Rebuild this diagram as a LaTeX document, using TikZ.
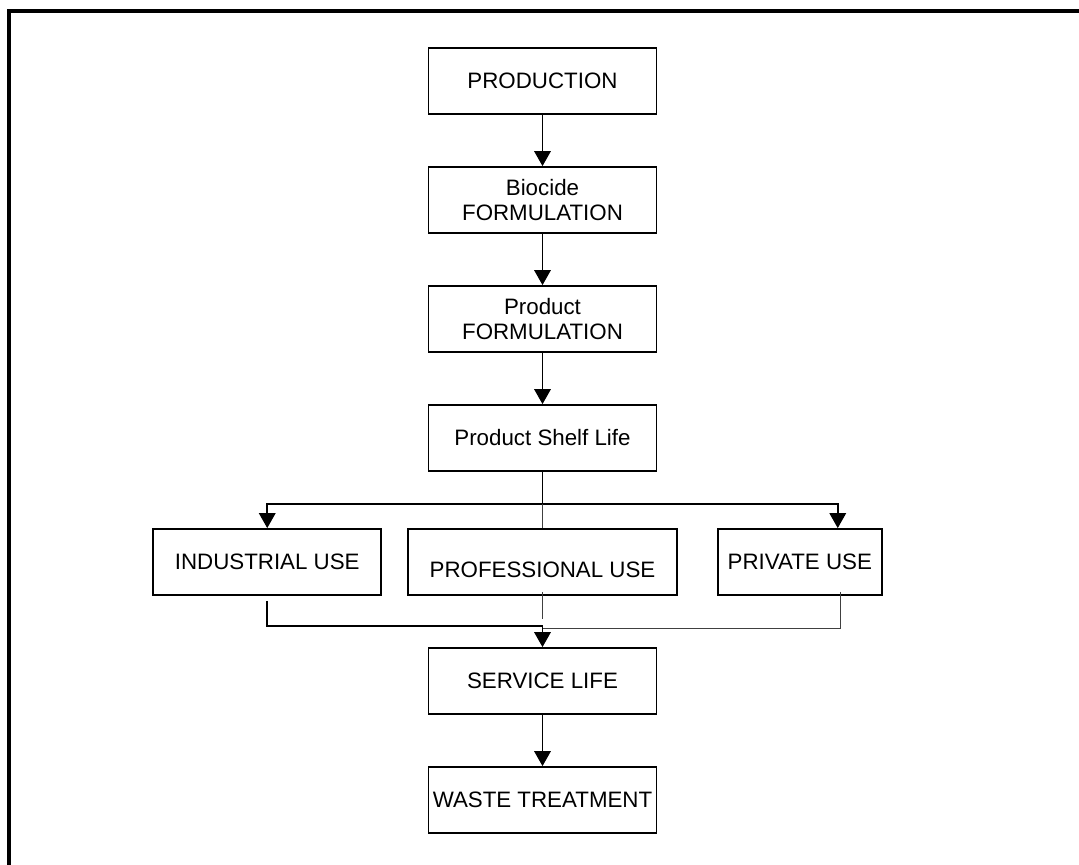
\documentclass[tikz,border=0pt]{standalone}
\usepackage{fontspec}
\setmainfont{Liberation Sans}
\usetikzlibrary{arrows.meta,positioning}

\begin{document}
\begin{tikzpicture}[node distance=2.38cm,>={Triangle[length=0.3cm,width=0.33cm]},
    font=\fontsize{12.7}{14.2}\selectfont]
        \tikzstyle{stage}=[rectangle,draw,line width=1pt,minimum width=4.56cm,minimum height=1.32cm,inner sep=0pt,align=center]
        \tikzstyle{flow}=[->,line width=1pt]
        \tikzstyle{link}=[line width=1pt]
        \tikzstyle{faint}=[line width=0.5pt,black!75]
        \useasboundingbox (0,0) rectangle (21.58,-17.3);
        % frame, cut off at the right and bottom
        \draw[line width=0.08cm] (0.18,-17.3) |- (21.58,-0.22);
        \begin{scope}
        \node[stage](prod) at (10.85,-1.62){PRODUCTION};
        \node[stage](bio)[below of=prod]{Biocide\\FORMULATION};
        \node[stage](form)[below of=bio]{Product\\FORMULATION};
        \node[stage](shelf)[below of=form]{Product Shelf Life};
        \node[stage,minimum width=5.38cm](prof)[below of=shelf,yshift=-0.1cm]{\raisebox{-0.32cm}[0pt][0pt]{PROFESSIONAL USE}};
        \node[stage](ind)[left=0.5cm of prof]{INDUSTRIAL USE};
        \node[stage,minimum width=3.28cm](priv)[right=0.78cm of prof]{PRIVATE USE};
        \node[stage](serv)[below of=prof]{SERVICE LIFE};
        \node[stage](waste)[below of=serv]{WASTE TREATMENT};
        \end{scope}
        \coordinate (split) at ([yshift=-0.64cm]shelf.south);
        \coordinate (privin) at ([xshift=0.76cm]priv.north);
        \coordinate (join) at ([yshift=0.42cm]serv.north);
        \draw[flow] (prod) -- (bio);
        \draw[flow] (bio) -- (form);
        \draw[flow] (form) -- (shelf);
        \draw[link] (shelf) -- (split);
        \draw[flow] (split) -| (ind);
        \draw[flow] (split) -| (privin);
        \draw[faint] (split) -- (prof);
        \draw[faint] ([yshift=0.08cm]prof.south) -- ([yshift=-0.46cm]prof.south);
        \draw[flow] ([yshift=-0.1cm]ind.south) |- (join) -- (serv);
        \draw[faint] ([xshift=0.82cm,yshift=0.08cm]priv.south) |- ([yshift=-0.04cm]join);
        \draw[flow] (serv) -- (waste);
\end{tikzpicture}
\end{document}
